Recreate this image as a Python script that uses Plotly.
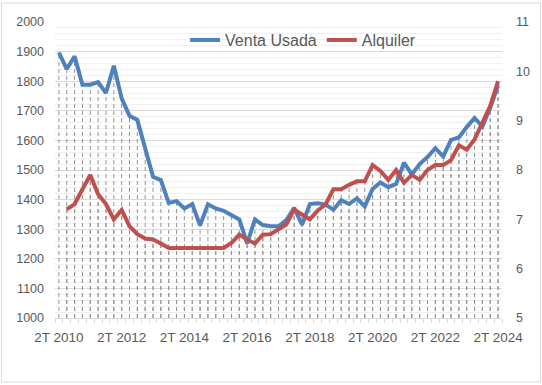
import plotly.graph_objects as go

# ---- data ----
quarters = [f"{q}T {y}" for y in range(2010, 2025) for q in (1, 2, 3, 4)]
quarters = quarters[quarters.index("2T 2010"):quarters.index("2T 2024") + 1]

venta_usada = [1897, 1841, 1884, 1788, 1788, 1797, 1760, 1852, 1742, 1683,
               1669, 1573, 1477, 1466, 1389, 1395, 1370, 1385, 1313, 1384,
               1370, 1362, 1348, 1333, 1252, 1333, 1314, 1310, 1310, 1331,
               1372, 1315, 1385, 1388, 1383, 1366, 1398, 1385, 1404, 1377,
               1436, 1458, 1442, 1453, 1525, 1485, 1520, 1544, 1574, 1546,
               1602, 1610, 1645, 1676, 1647, 1710, 1786]

alquiler = [None, 7.2, 7.31, 7.61, 7.9, 7.51, 7.31, 7.0, 7.19, 6.86,
            6.7, 6.61, 6.59, 6.51, 6.42, 6.42, 6.42, 6.42, 6.42, 6.42,
            6.42, 6.42, 6.52, 6.69, 6.59, 6.51, 6.69, 6.70, 6.80, 6.90,
            7.2, 7.1, 7.0, 7.18, 7.3, 7.61, 7.61, 7.7, 7.77, 7.77,
            8.1, 7.98, 7.8, 8.0, 7.74, 7.9, 7.8, 8.0, 8.1, 8.1,
            8.2, 8.5, 8.41, 8.62, 8.97, 9.3, 9.8]

left_range = [1000, 2000]
right_range = [5, 11]
label_every = 8

BLUE = "#4F81BD"
RED = "#C0504D"
TXT = "#595959"
FONT = "Liberation Sans"
DROP = dict(color="#959595", width=1, dash="4px,3px")


def drops(xs, ys, base):
    dx, dy = [], []
    for x, y in zip(xs, ys):
        if y is None:
            continue
        dx += [x, x, None]
        dy += [base, y, None]
    return dx, dy


fig = go.Figure()

bx, by = drops(quarters, venta_usada, left_range[0])
fig.add_trace(go.Scatter(x=bx, y=by, mode="lines", yaxis="y", line=DROP,
                         showlegend=False, hoverinfo="skip"))
rx, ry = drops(quarters, alquiler, right_range[0])
fig.add_trace(go.Scatter(x=rx, y=ry, mode="lines", yaxis="y2", line=DROP,
                         showlegend=False, hoverinfo="skip"))

fig.add_trace(go.Scatter(x=quarters, y=venta_usada, name="Venta Usada",
                         mode="lines", yaxis="y3",
                         line=dict(color=BLUE, width=4)))
fig.add_trace(go.Scatter(x=quarters, y=alquiler, name="Alquiler",
                         mode="lines", yaxis="y4",
                         line=dict(color=RED, width=4)))

ticktext = [q if i % label_every == 0 else "" for i, q in enumerate(quarters)]

fig.update_layout(
    width=542, height=385,
    margin=dict(l=55, r=40, t=22, b=67),
    paper_bgcolor="white", plot_bgcolor="white",
    font=dict(family=FONT, color=TXT),
    showlegend=True,
    legend=dict(orientation="h", x=0.555, xanchor="center",
                y=0.939, yanchor="middle",
                font=dict(size=16, color=TXT, family=FONT),
                bgcolor="rgba(0,0,0,0)", traceorder="normal"),
    xaxis=dict(type="category", categoryorder="array", categoryarray=quarters,
               tickmode="array", tickvals=quarters, ticktext=ticktext,
               tickson="boundaries", ticks="outside", ticklen=4,
               tickcolor="#d9d9d9", tickwidth=1,
               showgrid=False, showline=True, linecolor="#d9d9d9",
               tickangle=0, tickfont=dict(size=13.5, color=TXT),
               ticklabelstandoff=7,
               range=[-0.5, len(quarters) - 0.5]),
    yaxis=dict(range=left_range, dtick=100, tick0=1000,
               showgrid=True, gridcolor="#d9d9d9", gridwidth=1,
               minor=dict(dtick=20, showgrid=True, gridcolor="#f0f0f0"),
               zeroline=False, showline=False, ticks="",
               tickfont=dict(size=12.5, color=TXT), ticklabelstandoff=10),
    yaxis2=dict(range=right_range, dtick=1, overlaying="y", side="right",
                showgrid=False, zeroline=False, showline=False, ticks="",
                tickfont=dict(size=12.5, color=TXT), ticklabelstandoff=13),
    yaxis3=dict(range=left_range, overlaying="y", visible=False),
    yaxis4=dict(range=right_range, overlaying="y", visible=False),
    hovermode=False,
    shapes=[dict(type="rect", xref="paper", yref="paper",
                 x0=-53.5 / 447, x1=485.5 / 447,
                 y0=-64 / 296, y1=315 / 296,
                 line=dict(color="#d9d9d9", width=1), fillcolor="rgba(0,0,0,0)",
                 layer="below")],
)

fig.write_html("out.html", config={"displayModeBar": False},
               post_script="document.body.style.margin='0';document.body.style.overflow='hidden';")
